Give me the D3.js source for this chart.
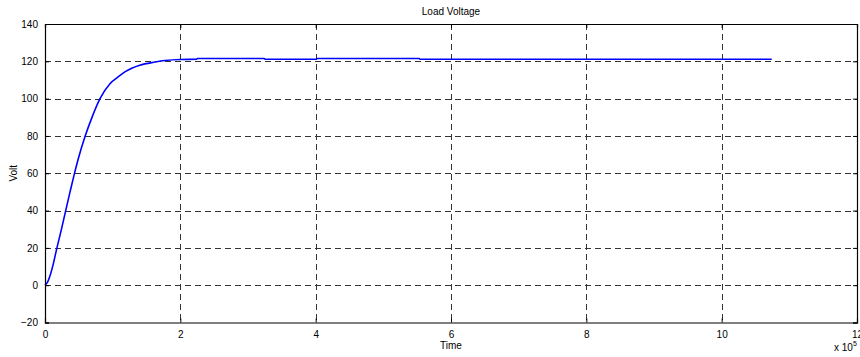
<!DOCTYPE html>
<html>
<head>
<meta charset="utf-8">
<script src="https://cdn.jsdelivr.net/npm/d3@7"></script>
<style>
  body { margin: 0; background: #fff; }
  text { font-family: "Liberation Sans", Arial, sans-serif; fill: #000; }
</style>
</head>
<body>
<div id="chart"></div>
<script>
// time in units of 1e5, voltage in volts
const timeVals = [0, 0.04, 0.074, 0.12, 0.173, 0.24, 0.306, 0.37, 0.433, 0.49, 0.59, 0.7, 0.813, 0.96, 1.08, 1.18, 1.29, 1.40, 1.63, 1.77, 2.0, 2.24, 2.25, 3.24, 3.25, 4.01, 4.02, 5.53, 5.54, 10.74];
const voltVals = [0, 1.8, 5, 11, 19.5, 29.5, 40, 50, 59.5, 67.5, 79.5, 90.5, 100, 108, 111.6, 114.3, 116.4, 117.9, 119.6, 120.4, 121, 121.1, 121.5, 121.5, 121.1, 121.1, 121.5, 121.5, 121.1, 121.1];
const xTicks = [0, 2, 4, 6, 8, 10, 12];
const yTicks = [-20, 0, 20, 40, 60, 80, 100, 120, 140];

const width = 860, height = 357;
const margin = { top: 24, right: 3, bottom: 34.5, left: 45 };
const w = width - margin.left - margin.right;
const h = height - margin.top - margin.bottom;

const svg = d3.select("#chart").append("svg")
  .attr("width", width)
  .attr("height", height);

const g = svg.append("g")
  .attr("transform", `translate(${margin.left},${margin.top})`);

const x = d3.scaleLinear().domain([0, 12]).range([0, w]);
const y = d3.scaleLinear().domain([-20, 140]).range([h, 0]);

// grid
g.append("g").selectAll("line")
  .data(xTicks.slice(1, -1))
  .join("line")
  .attr("x1", d => Math.round(x(d)) + 0.5)
  .attr("x2", d => Math.round(x(d)) + 0.5)
  .attr("y1", 0).attr("y2", h)
  .attr("stroke", "#333").attr("stroke-width", 1)
  .attr("stroke-dasharray", "6,4");

g.append("g").selectAll("line")
  .data(yTicks.slice(1, -1))
  .join("line")
  .attr("x1", 0).attr("x2", w)
  .attr("y1", d => Math.round(y(d)) + 0.5)
  .attr("y2", d => Math.round(y(d)) + 0.5)
  .attr("stroke", "#333").attr("stroke-width", 1)
  .attr("stroke-dasharray", "6,4");

// data line
const pts = timeVals.map((t, i) => [t, voltVals[i]]);
g.append("path")
  .datum(pts)
  .attr("fill", "none")
  .attr("stroke", "#0000ff")
  .attr("stroke-width", 1.6)
  .attr("d", d3.line().x(d => x(d[0])).y(d => y(d[1])).curve(d3.curveMonotoneX));

// axes (inward ticks, MATLAB style)
g.append("g")
  .attr("transform", `translate(0,${h})`)
  .call(d3.axisBottom(x).tickValues(xTicks).tickSize(-4).tickPadding(8).tickFormat(d3.format("d")));
g.append("g")
  .call(d3.axisLeft(y).tickValues(yTicks).tickSize(-4).tickPadding(7).tickFormat(d3.format("d")));
g.append("g")
  .call(d3.axisTop(x).tickValues(xTicks).tickSize(-4).tickFormat(""));
g.append("g")
  .attr("transform", `translate(${w},0)`)
  .call(d3.axisRight(y).tickValues(yTicks).tickSize(-4).tickFormat(""));

g.selectAll(".domain").attr("stroke", "#000").attr("stroke-width", 1.2);
g.selectAll(".tick line").attr("stroke", "#000");
g.selectAll(".tick text").attr("font-size", 10).attr("font-family", "Liberation Sans, Arial, sans-serif");

// titles
svg.append("text")
  .attr("x", margin.left + w / 2).attr("y", 15)
  .attr("text-anchor", "middle").attr("font-size", 10)
  .text("Load Voltage");

svg.append("text")
  .attr("x", margin.left + w / 2).attr("y", 349)
  .attr("text-anchor", "middle").attr("font-size", 10)
  .text("Time");

svg.append("text")
  .attr("transform", `translate(17,${margin.top + h / 2}) rotate(-90)`)
  .attr("text-anchor", "middle").attr("font-size", 10)
  .text("Volt");

const exp = svg.append("text")
  .attr("x", 834).attr("y", 351).attr("font-size", 10)
  .text("x 10");
exp.append("tspan").attr("dy", -5).attr("font-size", 7).text("5");
</script>
</body>
</html>
